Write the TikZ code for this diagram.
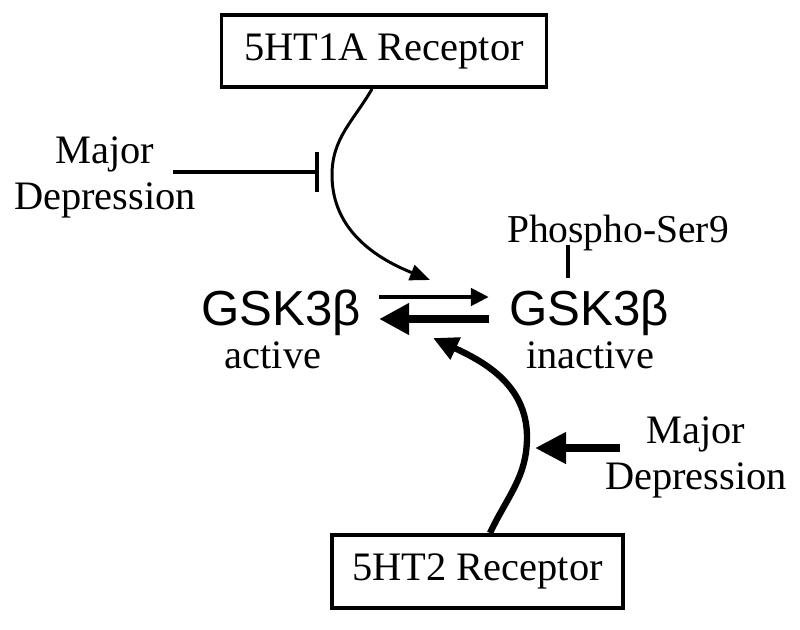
\documentclass[tikz,border=0pt]{standalone}
\usepackage{fontspec}
\setmainfont{Liberation Serif}
\newfontfamily\gskfont{Liberation Sans}
\usetikzlibrary{arrows.meta}

\newcommand{\figscale}{1}

\begin{document}
\begin{tikzpicture}[scale = \figscale,
  recbox/.style = {draw, line width = 2.2pt, inner sep = 0pt, font = \fontsize{23}{26}\selectfont},
  lbl/.style = {inner sep = 0pt, font = \fontsize{23}{26.6}\selectfont, align = center},
  gsk/.style = {inner sep = 0pt, anchor = base, font = \gskfont\fontsize{28}{30}\selectfont}]

\useasboundingbox (0,0) rectangle (16,-12.58);

\node[recbox, minimum width = 6.5cm, minimum height = 1.44cm] (r1a) at (7.68,-1.02) {5HT1A Receptor};
\node[recbox, minimum width = 5.82cm, minimum height = 1.46cm] (r2) at (9.55,-11.43) {5HT2 Receptor};

\node[lbl] (mdl) at (2.1,-3.55) {Major\\Depression};
\node[lbl] (mdr) at (13.92,-9.15) {Major\\Depression};

\node[gsk] (gsa) at (5.62,-6.5) {GSK3β};
\node[gsk] (gsi) at (11.78,-6.5) {GSK3β};
\node[lbl, anchor = base] (act) at (5.46,-7.36) {active};
\node[lbl, anchor = base] (inact) at (11.8,-7.36) {inactive};
\node[lbl, anchor = base, font = \fontsize{22.5}{26}\selectfont] (phos) at (12.36,-4.84) {Phospho-Ser9};

\coordinate (inhs) at (3.46,-3.44);
\coordinate (inhe) at (6.38,-3.44);
\coordinate (tl) at (6.64,-3.5);
\coordinate (tt) at (8.6,-5.6);
\coordinate (br) at (10.54,-8.74);
\coordinate (bt) at (8.66,-6.76);
\coordinate (mds) at (12.4,-8.96);
\coordinate (mde) at (10.7,-8.96);

% 5HT1A route
\draw [line width = 1.7pt, -{Triangle[length=0.4cm, width=0.32cm]}] ([xshift=-0.24cm]r1a.south) to[out=240, in=90] (tl) to[out=-90, in=158] (tt);
\draw [line width = 2.3pt, -{Bar[width=0.8cm]}] (inhs) -- (inhe);

% equilibrium
\draw [line width = 2.8pt, -{Triangle[length=0.36cm, width=0.34cm]}] ([xshift=0.36cm, yshift=0.56cm]gsa.base east) -- ([xshift=-0.4cm, yshift=0.56cm]gsi.base west);
\draw [line width = 4.5pt, -{Triangle[length=0.6cm, width=0.6cm]}] ([xshift=-0.4cm, yshift=0.12cm]gsi.base west) -- ([xshift=0.36cm, yshift=0.12cm]gsa.base east);
\draw [line width = 2.2pt] ([xshift=-1.0cm, yshift=-0.06cm]phos.base) -- ([xshift=-0.42cm, yshift=0.94cm]gsi.base);

% 5HT2 route
\draw [line width = 3.6pt, -{Triangle[length=0.5cm, width=0.46cm]}] ([xshift=0.25cm]r2.north) to[out=65, in=-90] (br) to[out=90, in=-25] (bt);
\draw [line width = 4.2pt, -{Triangle[length=0.62cm, width=0.6cm]}] (mds) -- (mde);
\end{tikzpicture}
\end{document}
